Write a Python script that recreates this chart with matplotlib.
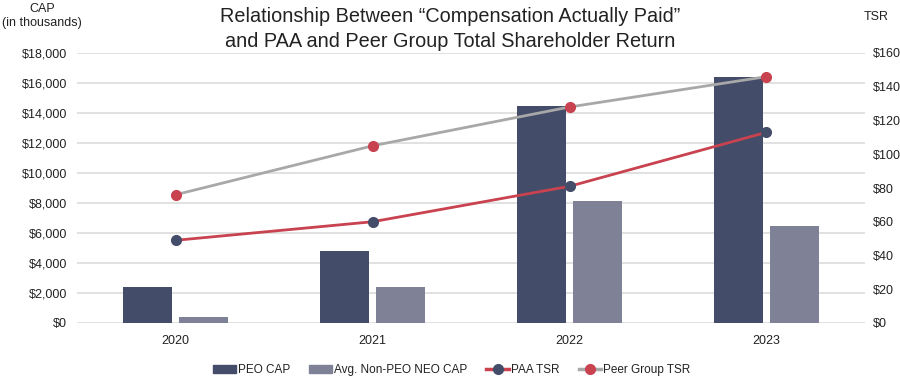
import matplotlib
matplotlib.use("Agg")
import matplotlib.pyplot as plt
from matplotlib.lines import Line2D
from matplotlib.patches import Patch
import numpy as np

plt.rcParams['font.family'] = ['Liberation Sans', 'DejaVu Sans']

years = ["2020", "2021", "2022", "2023"]
peo_cap = [2380, 4800, 14450, 16400]
neo_cap = [420, 2380, 8130, 6470]
paa_tsr = [49, 60, 81, 113]
peer_tsr = [76, 105, 128, 146]
left_ticks = [0, 2000, 4000, 6000, 8000, 10000, 12000, 14000, 16000, 18000]
right_ticks = [0, 20, 40, 60, 80, 100, 120, 140, 160]

c_peo = "#434d69"
c_neo = "#7f8197"
c_red = "#c8424f"
c_gray = "#a8a8a8"
c_txt = "#222222"

fig = plt.figure(figsize=(9, 3.82), dpi=100)
ax = fig.add_axes([77/900, 1 - 323/382, (865-77)/900, 270/382])
x = np.arange(len(years))
w = 0.244
ax.bar(x - 0.142, peo_cap, width=w, color=c_peo, zorder=2)
ax.bar(x + 0.142, neo_cap, width=w, color=c_neo, zorder=2)
ax.set_xlim(-0.5, 3.5)
ax.set_ylim(0, 18000)
ax.set_yticks(left_ticks)
ax.set_yticklabels([f"${v:,}" for v in left_ticks], fontsize=9, color=c_txt)
ax.set_xticks(x)
ax.set_xticklabels(years, fontsize=9, color=c_txt)
ax.tick_params(length=0, pad=7)
ax.tick_params(axis='x', pad=9)
ax.grid(axis='y', color="#dcdcdc", linewidth=1.2, zorder=0)
ax.set_axisbelow(True)
for s in ax.spines.values():
    s.set_visible(False)

ax2 = ax.twinx()
ax2.set_ylim(0, 160)
ax2.set_yticks(right_ticks)
ax2.set_yticklabels([f"${v}" for v in right_ticks], fontsize=9, color=c_txt)
ax2.tick_params(length=0, pad=6)
for s in ax2.spines.values():
    s.set_visible(False)
ax2.plot(x, peer_tsr, color=c_gray, linewidth=2, marker='o', markersize=7,
         markerfacecolor=c_red, markeredgecolor=c_red, zorder=3)
ax2.plot(x, paa_tsr, color=c_red, linewidth=2, marker='o', markersize=7,
         markerfacecolor=c_peo, markeredgecolor=c_peo, zorder=3)

fig.text(450/900, 1 - 29/382,
         "Relationship Between \u201cCompensation Actually Paid\u201d\nand PAA and Peer Group Total Shareholder Return",
         ha='center', va='center', fontsize=14.3, color=c_txt, linespacing=1.35)
fig.text(42/900, 1 - 16/382, "CAP\n(in thousands)", ha='center', va='center',
         fontsize=9, color=c_txt, linespacing=1.25)
fig.text(876/900, 1 - 17/382, "TSR", ha='center', va='center', fontsize=9, color=c_txt)

handles = [
    Patch(color=c_peo),
    Patch(color=c_neo),
    Line2D([0], [0], color=c_red, lw=2.5, marker='o', markersize=7,
           markerfacecolor=c_peo, markeredgecolor=c_peo),
    Line2D([0], [0], color=c_gray, lw=2.5, marker='o', markersize=7,
           markerfacecolor=c_red, markeredgecolor=c_red),
]
labels = ["PEO CAP", "Avg. Non-PEO NEO CAP", "PAA TSR", "Peer Group TSR"]
fig.legend(handles, labels, loc='center', bbox_to_anchor=(452/900, 1 - 370/382),
           ncol=4, frameon=False, fontsize=8.5, handlelength=1.9, handleheight=0.6,
           columnspacing=1.6, handletextpad=0.2, labelcolor=c_txt)

fig.savefig("out.png", dpi=100)
